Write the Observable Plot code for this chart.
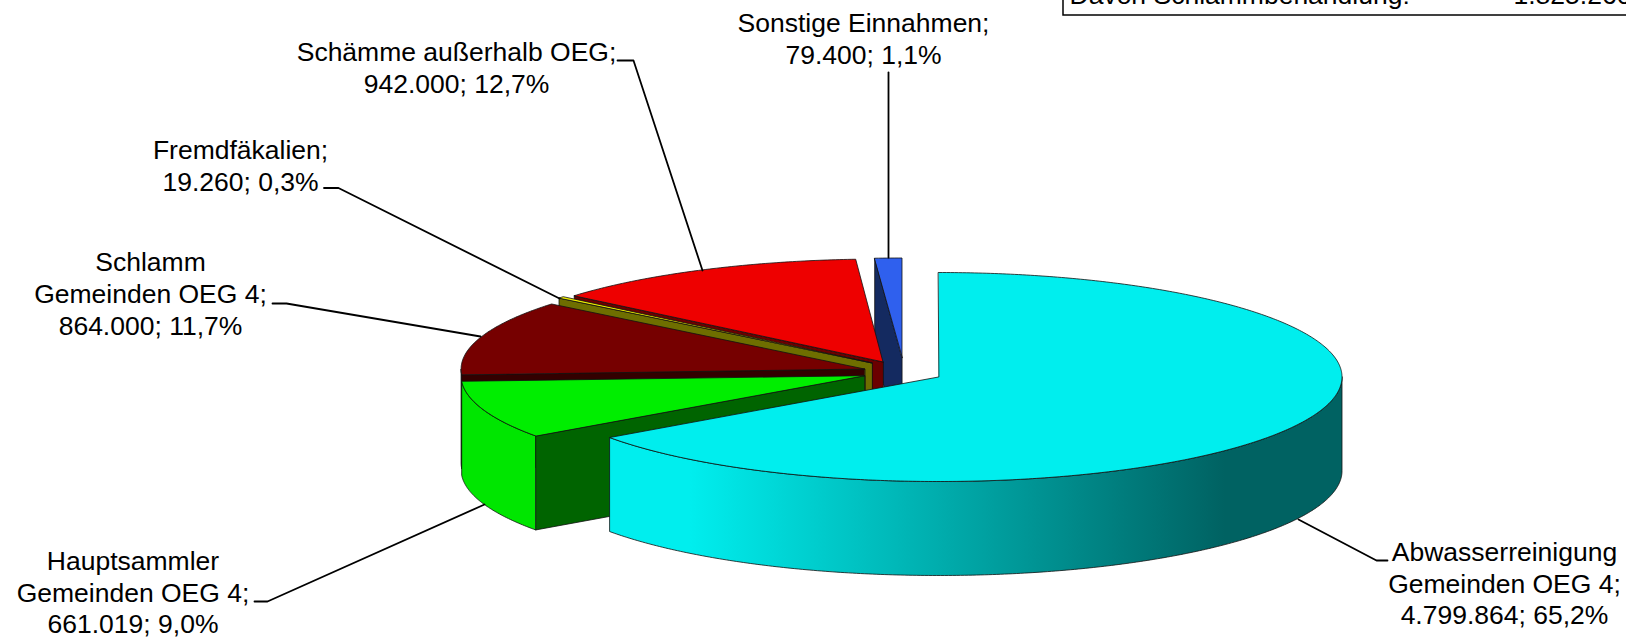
<!DOCTYPE html>
<html><head><meta charset="utf-8">
<script src="https://cdn.jsdelivr.net/npm/d3@7"></script>
<script src="https://cdn.jsdelivr.net/npm/@observablehq/plot@0.6"></script>
<style>html,body{margin:0;padding:0;background:#fff;overflow:hidden}svg{display:block}</style>
</head><body><div id="chart"></div>
<script>
const names = ["Abwasserreinigung\nGemeinden OEG 4", "Hauptsammler\nGemeinden OEG 4", "Schlamm\nGemeinden OEG 4", "Fremdfäkalien", "Schämme außerhalb OEG", "Sonstige Einnahmen"];
const amounts = [4799864, 661019, 864000, 19260, 942000, 79400];
const amountLabels = ["4.799.864", "661.019", "864.000", "19.260", "942.000", "79.400"];
const percents = ["65,2%", "9,0%", "11,7%", "0,3%", "12,7%", "1,1%"];
const topColors = ["#00eeee", "#00ee00", "#760000", "#eeee00", "#ee0000", "#2f60ee"];
const faceColors = ["#00eeee", "#006400", "#330000", "#6e6e00", "#6b0000", "#142a60"];
const rimColors = ["url(#rimCyan)", "#00e600", "#6b0000", "#6e6e00", "#6b0000", "#142a60"];

// layout of the exploded 3D pie
const W = 1626, H = 639, A = 403.5, DEPTH = 94;
const centerX = [938.5, 864.6, 864.6, 872, 883, 902];
const centerY = [377, 375.7, 369, 363, 362, 358];
const radiusY = [104.5, 104, 103, 103, 103, 100];

const total = d3.sum(amounts);
let acc = 0;
const slices = amounts.map((v, i) => {
  const a0 = acc / total * 2 * Math.PI; acc += v;
  return {i, a0, a1: acc / total * 2 * Math.PI};
});
const px = (s, a) => centerX[s.i] + A * Math.sin(a);
const py = (s, a) => centerY[s.i] - radiusY[s.i] * Math.cos(a);
const arcAngles = (a0, a1) => {
  const n = Math.max(2, Math.ceil((a1 - a0) / 0.01));
  return d3.range(n + 1).map(k => a0 + (a1 - a0) * k / n);
};

const tops = [], rims = [], faces = [];
for (const s of slices) {
  for (const a of arcAngles(s.a0, s.a1)) tops.push({s: s.i, x1: px(s, a), y1: py(s, a), x2: centerX[s.i], y2: centerY[s.i]});
  const r0 = Math.max(s.a0, Math.PI / 2), r1 = Math.min(s.a1, 3 * Math.PI / 2);
  if (r1 > r0) for (const a of arcAngles(r0, r1)) rims.push({s: s.i, x1: px(s, a), y1: py(s, a), x2: px(s, a), y2: py(s, a) + DEPTH});
  if (s.a0 > Math.PI) {
    faces.push({s: s.i, x1: centerX[s.i], y1: centerY[s.i], x2: centerX[s.i], y2: centerY[s.i] + DEPTH});
    faces.push({s: s.i, x1: px(s, s.a0), y1: py(s, s.a0), x2: px(s, s.a0), y2: py(s, s.a0) + DEPTH});
  }
}
const sliceMarks = [];
for (const s of [5, 4, 3, 2, 1, 0]) {
  const common = {x1: "x1", y1: "y1", x2: "x2", y2: "y2", stroke: "#111", strokeWidth: 0.8};
  sliceMarks.push(Plot.area(rims.filter(d => d.s === s), {...common, fill: rimColors[s]}));
  sliceMarks.push(Plot.area(faces.filter(d => d.s === s), {...common, fill: faceColors[s]}));
  sliceMarks.push(Plot.area(tops.filter(d => d.s === s), {...common, fill: topColors[s]}));
}

const labelX = [1504, 132.5, 150, 240, 456, 863];
const labelY = [582, 591, 292.5, 164, 66.5, 37.5];
const labels = names.map((n, i) => ({x: labelX[i], y: labelY[i], text: `${n};\n${amountLabels[i]}; ${percents[i]}`}));

const leaders = [
  [[1298, 519], [1376, 560], [1387, 560]],
  [[254, 601], [267, 601], [484, 504]],
  [[272, 303], [286, 303], [480, 336]],
  [[323.5, 187.5], [338, 187.5], [559, 298]],
  [[617, 60], [633, 60], [702, 270]],
  [[888, 72], [888, 257]]
].flatMap((pts, i) => pts.map(([x, y]) => ({i, x, y})));

const rimGradient = () => {
  const defs = d3.create("svg:defs");
  const g = defs.append("linearGradient").attr("id", "rimCyan")
    .attr("gradientUnits", "userSpaceOnUse").attr("x1", 690).attr("x2", 1225).attr("y1", 0).attr("y2", 0);
  g.append("stop").attr("offset", 0).attr("stop-color", "#00eeee");
  g.append("stop").attr("offset", 1).attr("stop-color", "#006262");
  return defs.node();
};

const chart = Plot.plot({
  width: W, height: H, margin: 0,
  x: {domain: [0, W], range: [0, W], axis: null},
  y: {domain: [0, H], range: [0, H], axis: null},
  style: {fontFamily: "'Liberation Sans', Arial, sans-serif", background: "#fff"},
  marks: [
    rimGradient,
    ...sliceMarks,
    Plot.line(leaders, {x: "x", y: "y", z: "i", stroke: "#000", strokeWidth: 1.8, curve: "linear"}),
    Plot.text(labels, {x: "x", y: "y", text: "text", fontSize: 26.5, lineHeight: 1.2, textAnchor: "middle", fill: "#000"}),
    Plot.rect([{x1: 1063, x2: 1700, y1: -60, y2: 15}], {x1: "x1", x2: "x2", y1: "y1", y2: "y2", fill: "none", stroke: "#000", strokeWidth: 1.5}),
    Plot.text(["Davon Schlammbehandlung:"], {x: 1069, y: -5, text: d => d, fontSize: 26.5, textAnchor: "start", fill: "#000"}),
    Plot.text(["1.825.260"], {x: 1513, y: -5, text: d => d, fontSize: 26.5, textAnchor: "start", fill: "#000"})
  ]
});
document.getElementById("chart").append(chart);
</script></body></html>
